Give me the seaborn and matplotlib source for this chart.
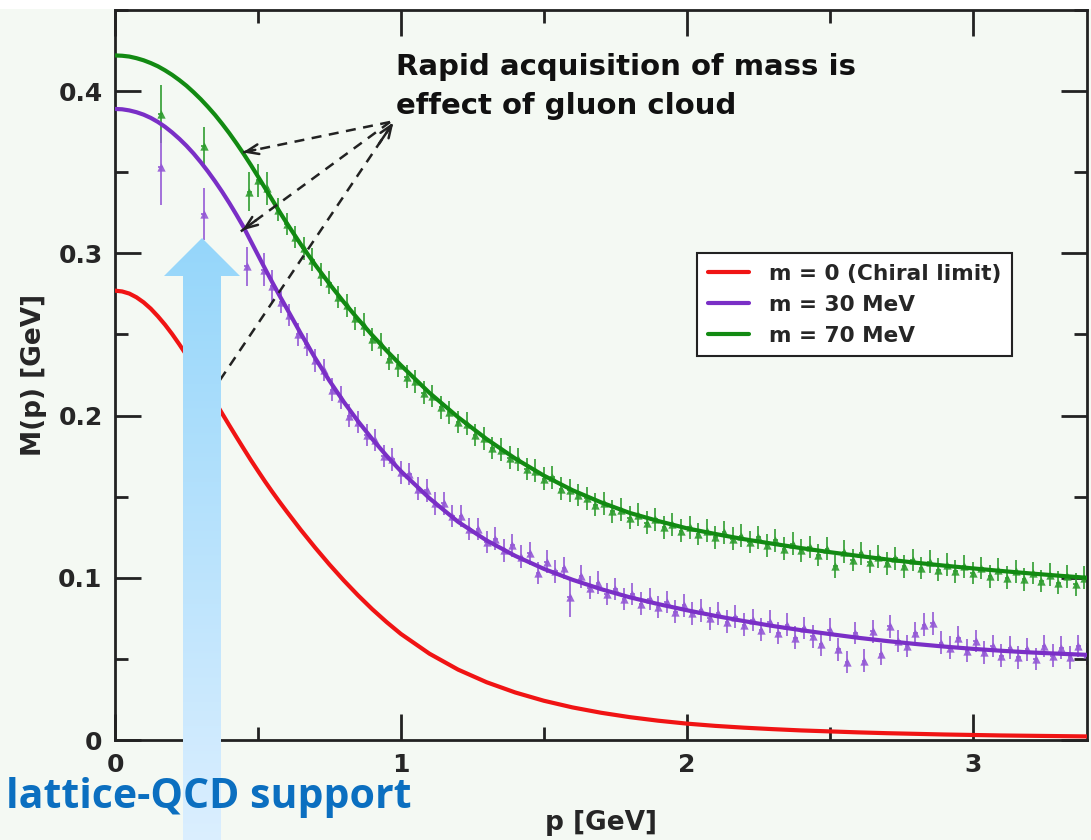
import numpy as np
import pandas as pd
import matplotlib
matplotlib.use("Agg")
import matplotlib.pyplot as plt
import seaborn as sns
from matplotlib.patches import Polygon, Rectangle
from matplotlib.lines import Line2D
from matplotlib.colors import LinearSegmentedColormap
from matplotlib.ticker import MultipleLocator

# ---------------- data ----------------
p_curve = [0.0, 0.025, 0.05, 0.075, 0.1, 0.125, 0.15, 0.175, 0.2, 0.225, 0.25, 0.275, 0.3,
           0.325, 0.35, 0.375, 0.4, 0.425, 0.45, 0.475, 0.5, 0.525, 0.55, 0.575, 0.6,
           0.65, 0.7, 0.75, 0.8, 0.85, 0.9, 0.95, 1.0,
           1.1, 1.2, 1.3, 1.4, 1.5, 1.6, 1.7, 1.8, 1.9, 2.0, 2.1, 2.2, 2.3, 2.4, 2.5,
           2.6, 2.7, 2.8, 2.9, 3.0, 3.1, 3.2, 3.3, 3.4]
m_chiral = [0.2770, 0.2765, 0.2752, 0.2729, 0.2698, 0.2659, 0.2612, 0.2560, 0.2502, 0.2439, 0.2373, 0.2303, 0.2232,
            0.2159, 0.2086, 0.2012, 0.1939, 0.1867, 0.1796, 0.1726, 0.1659, 0.1593, 0.1530, 0.1469, 0.1410,
            0.1295, 0.1186, 0.1082, 0.0984, 0.0892, 0.0806, 0.0727, 0.0654,
            0.0532, 0.0434, 0.0356, 0.0293, 0.0242, 0.0201, 0.0168, 0.0141, 0.0119, 0.0101, 0.0087, 0.0076, 0.0067,
            0.0059, 0.0053, 0.0047, 0.0042, 0.0038, 0.0034, 0.0031, 0.0028, 0.0026, 0.0024, 0.0022]
m_30 = [0.3890, 0.3888, 0.3881, 0.3870, 0.3855, 0.3835, 0.3810, 0.3780, 0.3745, 0.3706, 0.3663, 0.3615, 0.3562,
        0.3505, 0.3444, 0.3379, 0.3310, 0.3237, 0.3161, 0.3075, 0.2990, 0.2905, 0.2822, 0.2741, 0.2663,
        0.2505, 0.2355, 0.2215, 0.2085, 0.1965, 0.1855, 0.1752, 0.1657,
        0.1490, 0.1345, 0.1230, 0.1135, 0.1055, 0.0988, 0.0930, 0.0880, 0.0838, 0.0800, 0.0765, 0.0733, 0.0703,
        0.0677, 0.0653, 0.0630, 0.0610, 0.0592, 0.0576, 0.0562, 0.0550, 0.0540, 0.0532, 0.0525]
m_70 = [0.4220, 0.4218, 0.4213, 0.4203, 0.4190, 0.4173, 0.4153, 0.4128, 0.4100, 0.4068, 0.4033, 0.3993, 0.3950,
        0.3903, 0.3853, 0.3798, 0.3740, 0.3678, 0.3613, 0.3545, 0.3474, 0.3402, 0.3330, 0.3258, 0.3188,
        0.3055, 0.2930, 0.2812, 0.2700, 0.2595, 0.2495, 0.2400, 0.2310,
        0.2140, 0.1990, 0.1855, 0.1735, 0.1630, 0.1540, 0.1465, 0.1400, 0.1350, 0.1305, 0.1270, 0.1238, 0.1210,
        0.1183, 0.1158, 0.1135, 0.1113, 0.1093, 0.1075, 0.1058, 0.1042, 0.1027, 0.1013, 0.1000]

series_names = ["m = 0 (Chiral limit)", "m = 30 MeV", "m = 70 MeV"]

# lattice points, m = 70 MeV
p_lat70 = [0.16, 0.31, 0.47, 0.50, 0.53, 0.57, 0.60, 0.63, 0.66, 0.69, 0.72, 0.75, 0.78, 0.81, 0.84,
           0.87, 0.90, 0.93, 0.96, 0.99, 1.02, 1.05, 1.08, 1.11, 1.14, 1.17, 1.20, 1.23, 1.26, 1.29,
           1.32, 1.35, 1.38, 1.41, 1.44, 1.47, 1.50, 1.53, 1.56, 1.59, 1.62, 1.65, 1.68, 1.71, 1.74,
           1.77, 1.80, 1.83, 1.86, 1.89, 1.92, 1.95, 1.98, 2.01, 2.04, 2.07, 2.10, 2.13, 2.16, 2.19,
           2.22, 2.25, 2.28, 2.31, 2.34, 2.37, 2.40, 2.43, 2.46, 2.49, 2.52, 2.55, 2.58, 2.61, 2.64,
           2.67, 2.70, 2.73, 2.76, 2.79, 2.82, 2.85, 2.88, 2.91, 2.94, 2.97, 3.00, 3.03, 3.06, 3.09,
           3.12, 3.15, 3.18, 3.21, 3.24, 3.27, 3.30, 3.33, 3.36, 3.39]
m_lat70 = [0.386, 0.366, 0.338, 0.345, 0.340, 0.327, 0.318, 0.310, 0.303, 0.296, 0.287, 0.282, 0.273, 0.268, 0.260,
           0.256, 0.247, 0.244, 0.235, 0.231, 0.224, 0.221, 0.214, 0.212, 0.205, 0.202, 0.196, 0.195, 0.188, 0.186,
           0.180, 0.179, 0.174, 0.173, 0.167, 0.166, 0.161, 0.162, 0.155, 0.154, 0.151, 0.149, 0.145, 0.146, 0.141,
           0.142, 0.137, 0.139, 0.134, 0.136, 0.131, 0.133, 0.129, 0.131, 0.127, 0.129, 0.125, 0.128, 0.124, 0.126,
           0.122, 0.125, 0.120, 0.123, 0.118, 0.121, 0.117, 0.119, 0.114, 0.118, 0.107, 0.116, 0.111, 0.115, 0.110,
           0.113, 0.109, 0.112, 0.107, 0.111, 0.106, 0.110, 0.105, 0.108, 0.104, 0.107, 0.103, 0.106, 0.101, 0.105,
           0.100, 0.104, 0.099, 0.103, 0.098, 0.102, 0.097, 0.101, 0.096, 0.100]
e_lat70 = [0.018, 0.012, 0.012, 0.010, 0.010] + [0.007] * 95

# lattice points, m = 30 MeV
p_lat30 = [0.16, 0.31, 0.46, 0.52, 0.55, 0.58, 0.61, 0.64, 0.67, 0.70, 0.73, 0.76, 0.79, 0.82, 0.85,
           0.88, 0.91, 0.94, 0.97, 1.00, 1.03, 1.06, 1.09, 1.12, 1.15, 1.18, 1.21, 1.24, 1.27, 1.30,
           1.33, 1.36, 1.39, 1.42, 1.45, 1.48, 1.51, 1.54, 1.57, 1.59, 1.63, 1.66, 1.69, 1.72, 1.75,
           1.78, 1.81, 1.84, 1.87, 1.90, 1.93, 1.96, 1.99, 2.02, 2.05, 2.08, 2.11, 2.14, 2.17, 2.20,
           2.23, 2.26, 2.29, 2.32, 2.35, 2.38, 2.41, 2.44, 2.47, 2.50, 2.53, 2.56, 2.59, 2.62, 2.65,
           2.68, 2.71, 2.74, 2.77, 2.80, 2.83, 2.86, 2.89, 2.92, 2.95, 2.98, 3.01, 3.04, 3.07, 3.10,
           3.13, 3.16, 3.19, 3.22, 3.25, 3.28, 3.31, 3.34, 3.37, 3.40]
m_lat30 = [0.353, 0.324, 0.292, 0.290, 0.280, 0.270, 0.262, 0.250, 0.244, 0.234, 0.228, 0.216, 0.211, 0.200, 0.196,
           0.188, 0.185, 0.175, 0.173, 0.165, 0.164, 0.155, 0.154, 0.146, 0.146, 0.138, 0.138, 0.130, 0.130, 0.122,
           0.124, 0.117, 0.120, 0.113, 0.115, 0.103, 0.110, 0.104, 0.106, 0.088, 0.101, 0.094, 0.097, 0.090, 0.093,
           0.087, 0.090, 0.084, 0.087, 0.082, 0.085, 0.079, 0.083, 0.078, 0.080, 0.075, 0.078, 0.073, 0.076, 0.071,
           0.074, 0.068, 0.073, 0.066, 0.071, 0.063, 0.069, 0.064, 0.059, 0.068, 0.056, 0.048, 0.066, 0.049, 0.067,
           0.053, 0.070, 0.061, 0.058, 0.066, 0.071, 0.072, 0.060, 0.057, 0.063, 0.055, 0.061, 0.054, 0.058, 0.052,
           0.057, 0.051, 0.056, 0.050, 0.058, 0.052, 0.057, 0.051, 0.058, 0.053]
e_lat30 = [0.023, 0.016, 0.012, 0.010, 0.010] + [0.007] * 34 + [0.012] + [0.007] * 60

x_ticks = [0, 1, 2, 3]
x_labels = ["0", "1", "2", "3"]
y_ticks = [0.0, 0.1, 0.2, 0.3, 0.4]
y_labels = ["0", "0.1", "0.2", "0.3", "0.4"]

# ---------------- style ----------------
sns.set_style("ticks")
plt.rcParams["font.family"] = ["DejaVu Sans"]

BG = "#f4f9f3"
RED = "#f01414"
PURPLE = "#7a2fc6"
GREEN = "#128a12"
PURPLE_PT = "#9459d6"
GREEN_PT = "#2f9d2f"

W, H = 1091, 840
fig = plt.figure(figsize=(W / 100, H / 100), dpi=100)
fig.patch.set_facecolor(BG)
ax = fig.add_axes([115 / W, 100 / H, 972 / W, 730 / H])
ax.set_facecolor(BG)

# lattice data
for p, m, e, c in [(p_lat70, m_lat70, e_lat70, GREEN_PT), (p_lat30, m_lat30, e_lat30, PURPLE_PT)]:
    ax.errorbar(p, m, yerr=e, xerr=0.008, fmt="none", ecolor=c, elinewidth=1.4, alpha=0.85, zorder=2)
    sns.scatterplot(x=p, y=m, marker="^", s=36, color=c, linewidth=0, alpha=0.9, ax=ax, zorder=2)

# curves
n = len(p_curve)
df = pd.DataFrame({
    "p": p_curve * 3,
    "M": m_chiral + m_30 + m_70,
    "series": [series_names[0]] * n + [series_names[1]] * n + [series_names[2]] * n,
})
palette = {series_names[0]: RED, series_names[1]: PURPLE, series_names[2]: GREEN}
sns.lineplot(data=df, x="p", y="M", hue="series", palette=palette, estimator=None,
             linewidth=3.0, legend=False, ax=ax, zorder=3)

ax.set_xlim(0, 3.4)
ax.set_ylim(0, 0.45)
ax.set_xticks(x_ticks)
ax.set_xticklabels(x_labels)
ax.set_yticks(y_ticks)
ax.set_yticklabels(y_labels)
ax.xaxis.set_minor_locator(MultipleLocator(0.5))
ax.yaxis.set_minor_locator(MultipleLocator(0.05))
ax.tick_params(which="both", direction="in", top=True, right=True, width=2, color="#222222")
ax.tick_params(which="major", length=19, labelsize=18, pad=9)
ax.tick_params(which="minor", length=9.5)
for lab in ax.get_xticklabels() + ax.get_yticklabels():
    lab.set_fontweight("bold")
for s in ax.spines.values():
    s.set_linewidth(2)
    s.set_color("#222222")
    s.set_visible(True)

ax.set_xlabel("p [GeV]", fontsize=19, fontweight="bold", labelpad=24)
ax.set_ylabel("M(p) [GeV]", fontsize=19, fontweight="bold", labelpad=8)

# legend
handles = [Line2D([0], [0], color=c, lw=3) for c in (RED, PURPLE, GREEN)]
leg = ax.legend(handles, series_names, loc="upper left", bbox_to_anchor=(0.599, 0.667),
                borderaxespad=0, frameon=True, fancybox=False, framealpha=1,
                facecolor="white", edgecolor="#222222", prop={"size": 15.6, "weight": "bold"},
                handlelength=1.9, handletextpad=0.9, labelspacing=0.5, borderpad=0.5)
leg.get_frame().set_linewidth(1.5)


# annotation (pixel -> data helpers)
def px(xp):
    return (xp - 115) / 972 * 3.4


def py(yp):
    return (740 - yp) / 730 * 0.45


ax.text(px(396), py(53), "Rapid acquisition of mass is\neffect of gluon cloud",
        fontsize=21, fontweight="bold", va="top", ha="left", color="#111111",
        linespacing=1.5, zorder=5)

arrow_kw = dict(arrowstyle="->,head_length=0.9,head_width=0.35", lw=1.8, color="#222222")
src = (px(390), py(122))
for end in [(px(240), py(153)), (px(240), py(232))]:
    ax.plot([src[0], end[0]], [src[1], end[1]], ls=(0, (4, 3)), lw=1.8, color="#222222", zorder=4)
    d = (src[0] - end[0], src[1] - end[1])
    ax.annotate("", xy=end, xytext=(end[0] + 0.12 * d[0], end[1] + 0.12 * d[1]),
                arrowprops=arrow_kw, zorder=4)
start3 = (px(220), py(380))
end3 = (px(395), py(120))
ax.plot([start3[0], end3[0]], [start3[1], end3[1]], ls=(0, (4, 3)), lw=1.8, color="#222222", zorder=4)
ax.annotate("", xy=end3, xytext=(end3[0] - 0.1 * (end3[0] - start3[0]), end3[1] - 0.1 * (end3[1] - start3[1])),
            arrowprops=arrow_kw, zorder=4)

# overlay: blue arrow and caption
oax = fig.add_axes([0, 0, 1, 1], zorder=10)
oax.patch.set_alpha(0)
oax.axis("off")
verts = [(202, 238), (240, 276), (221, 276), (221, 850), (183, 850), (183, 276), (164, 276)]
poly = Polygon(verts, closed=True, facecolor="none", edgecolor="none")
oax.add_patch(poly)
cmap = LinearSegmentedColormap.from_list("blue", ["#95d6fa", "#dcefff"])
grad = np.linspace(0, 1, 256).reshape(-1, 1)
im = oax.imshow(grad, cmap=cmap, extent=(160, 245, 850, 236), aspect="auto", interpolation="bilinear")
im.set_clip_path(poly)
oax.add_patch(Rectangle((0, 0), W, 9, facecolor="white", edgecolor="none"))
oax.text(6, 808, "lattice-QCD support", color="#0b6fc0", fontsize=29.5, fontweight="bold",
         family=["Open Sans", "DejaVu Sans"], va="baseline", ha="left")
oax.set_xlim(0, W)
oax.set_ylim(H, 0)

fig.savefig("out.png", dpi=100, facecolor=fig.get_facecolor())
